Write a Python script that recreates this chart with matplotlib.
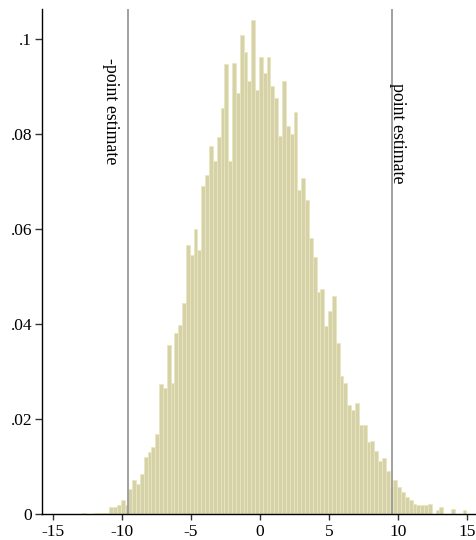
import matplotlib
matplotlib.use("Agg")
import matplotlib.pyplot as plt

# histogram bins (100 equal bins)
bin_start = -12.88
bin_width = 0.2786
density = [
    0.0003, 0.0, 0.0, 0.0003, 0.0003, 0.0003, 0.0003, 0.0014, 0.0014, 0.0018,
    0.0030, 0.0018, 0.0053, 0.0071, 0.0063, 0.0085, 0.0121, 0.0130, 0.0140, 0.0169,
    0.0273, 0.0265, 0.0355, 0.0275, 0.0382, 0.0397, 0.0444, 0.0566, 0.0545, 0.0599,
    0.0555, 0.0691, 0.0713, 0.0774, 0.0743, 0.0794, 0.0855, 0.0947, 0.0743, 0.0949,
    0.0887, 0.1008, 0.0973, 0.0912, 0.1040, 0.0893, 0.0962, 0.0928, 0.0962, 0.0901,
    0.0876, 0.0796, 0.0912, 0.0817, 0.0800, 0.0846, 0.0682, 0.0707, 0.0661, 0.0581,
    0.0541, 0.0467, 0.0474, 0.0396, 0.0427, 0.0459, 0.0360, 0.0291, 0.0276, 0.0229,
    0.0219, 0.0234, 0.0187, 0.0187, 0.0152, 0.0153, 0.0132, 0.0111, 0.0118, 0.0090,
    0.0057, 0.0071, 0.0056, 0.0046, 0.0036, 0.0029, 0.0021, 0.0019, 0.0019, 0.0019,
    0.0021, 0.0, 0.0008, 0.0014, 0.0, 0.0, 0.0010, 0.0, 0.0, 0.0008,
]
point_estimate = 9.58

x_ticks = [-15, -10, -5, 0, 5, 10, 15]
y_ticks = [0, 0.02, 0.04, 0.06, 0.08, 0.1]
y_tick_labels = ["0", ".02", ".04", ".06", ".08", ".1"]

plt.rcParams["font.family"] = ["Liberation Serif", "DejaVu Serif"]

fig = plt.figure(figsize=(4.77, 5.40), dpi=100)
ax = fig.add_axes([42 / 477, 26 / 540, 435 / 477, 505 / 540])

lefts = [bin_start + i * bin_width for i in range(len(density))]
ax.bar(lefts, density, width=bin_width, align="edge",
       color="#d4d1ab", edgecolor="#ebe7b5", linewidth=0.5)

# lines at +/- point estimate
ax.axvline(-point_estimate, color="#999999", lw=1.3)
ax.axvline(point_estimate, color="#999999", lw=1.3)
ax.text(-10.8, 0.096, "-point estimate", rotation=270, ha="center", va="top",
        fontsize=12.8)
ax.text(10.0, 0.0907, "point estimate", rotation=270, ha="center", va="top",
        fontsize=12.8)

ax.set_xlim(-15.8, 15.75)
ax.set_ylim(0, 0.1063)
ax.set_xticks(x_ticks)
ax.set_xticklabels([str(t) for t in x_ticks])
ax.set_yticks(y_ticks)
ax.set_yticklabels(y_tick_labels)
ax.tick_params(axis="both", direction="out", length=5, width=1, labelsize=12.5,
               color="#333333")
ax.tick_params(axis="x", pad=2.5, length=4.5)
ax.tick_params(axis="y", pad=2)

for side in ["top", "right"]:
    ax.spines[side].set_visible(False)
ax.spines["left"].set_linewidth(1)
ax.spines["bottom"].set_linewidth(1)

fig.savefig("out.png", dpi=100)
